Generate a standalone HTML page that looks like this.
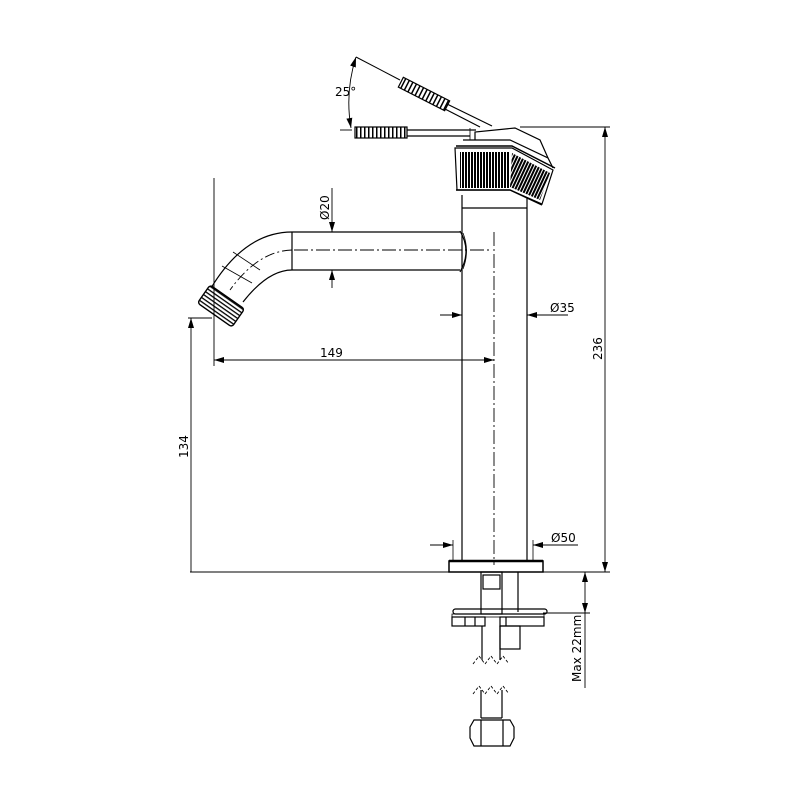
<!DOCTYPE html>
<html><head><meta charset="utf-8"><style>html,body{margin:0;padding:0;background:#fff}svg{display:block}text{font-family:"DejaVu Sans","Liberation Sans",sans-serif;font-size:12px;fill:#000}</style></head><body>
<svg width="800" height="800" viewBox="0 0 800 800" xmlns="http://www.w3.org/2000/svg">
<defs>
<marker id="a" viewBox="0 0 10 6" refX="10" refY="3" markerWidth="10" markerHeight="6" orient="auto-start-reverse" markerUnits="userSpaceOnUse"><path d="M0,0L10,3L0,6z" fill="#000"/></marker>
<pattern id="kn" width="3" height="10" patternUnits="userSpaceOnUse"><rect width="3" height="10" fill="#fff"/><rect width="2" height="10" fill="#000"/></pattern>
<pattern id="kn2" width="3" height="10" patternUnits="userSpaceOnUse" patternTransform="rotate(25)"><rect width="3" height="10" fill="#fff"/><rect width="2" height="10" fill="#000"/></pattern>
<pattern id="gr" width="4" height="10" patternUnits="userSpaceOnUse"><rect width="4" height="10" fill="#fff"/><rect width="1.5" height="10" fill="#000"/></pattern>
<pattern id="th" width="10" height="3.5" patternUnits="userSpaceOnUse"><rect width="10" height="3.5" fill="#fff"/><rect width="10" height="1.3" fill="#000"/></pattern>
</defs>
<g fill="none" stroke="#000" stroke-width="1.2">
<line x1="462" y1="195" x2="462" y2="561"/><line x1="527" y1="195" x2="527" y2="561"/>
<line x1="462" y1="208" x2="527" y2="208"/>
<line x1="494" y1="232" x2="494" y2="565" stroke-dasharray="14,3,2,3" stroke-width="0.9"/>
<rect x="449" y="561" width="94" height="11" stroke-width="1.5"/>
<line x1="449" y1="561" x2="543" y2="561" stroke-width="2.5"/>
<line x1="453" y1="540" x2="453" y2="561" stroke-width="0.8"/><line x1="533" y1="540" x2="533" y2="561" stroke-width="0.8"/>
<line x1="292" y1="232" x2="460" y2="232"/><line x1="292" y1="270" x2="460" y2="270"/>
<line x1="292" y1="232" x2="292" y2="270"/>
<path d="M460,231 Q472,251 460,272"/><path d="M463,233 Q470,251 463,269" stroke-width="0.8"/>
<path d="M292,232 Q245,232 211,288"/><path d="M292,270 Q268,270 243,302"/>
<line x1="222" y1="266" x2="252" y2="283" stroke-width="0.8"/><line x1="233" y1="252" x2="260" y2="270" stroke-width="0.8"/>
<line x1="294" y1="250" x2="490" y2="250" stroke-dasharray="14,3,2,3" stroke-width="0.9"/>
<path d="M292,250 Q258,251 230,290" stroke-dasharray="10,3,2,3" stroke-width="0.9"/>
<g transform="translate(221,306) rotate(35)"><rect x="-21" y="-11" width="42" height="22" rx="3" fill="url(#th)" stroke-width="1.4"/></g>
<path d="M455,148 L512,148 L553,170 L542,204 L510,190 L457,190 Z" fill="#fff"/>
<rect x="460" y="152" width="50" height="36" fill="url(#kn)" stroke="none"/>
<path d="M512,153 L550,173 L540,200 L510,187Z" fill="url(#kn2)" stroke="none"/>
<path d="M456,146 L512,146 L555,168 M456,190 L510,190 L542,205" stroke-width="1.5"/>
<path d="M463,140 L510,140 L548,158 L553,168" />
<path d="M475,140 L475,132 L515,128 L540,140 L548,158"/>
<line x1="470" y1="128" x2="470" y2="140" stroke-width="0.8"/>
<rect x="355" y="127" width="52" height="11" fill="url(#gr)"/>
<line x1="407" y1="130" x2="476" y2="130"/><line x1="407" y1="136" x2="470" y2="136"/>
<g transform="translate(424,94) rotate(27)"><rect x="-26" y="-5.5" width="52" height="11" fill="url(#gr)"/></g>
<line x1="356" y1="57" x2="400" y2="80" stroke-width="1"/>
<line x1="447" y1="104" x2="492" y2="126"/><line x1="445" y1="109" x2="480" y2="127"/>
<rect x="481" y="572" width="21" height="42"/><rect x="483" y="575" width="17" height="14"/>
<line x1="518" y1="572" x2="518" y2="612"/>
<rect x="453" y="609" width="94" height="5" rx="2.5"/>
<rect x="452" y="617" width="33" height="9"/><rect x="500" y="617" width="44" height="9"/>
<line x1="465" y1="617" x2="465" y2="626"/><line x1="475" y1="617" x2="475" y2="626"/><line x1="506" y1="617" x2="506" y2="626"/>
<rect x="452" y="614" width="92" height="3" stroke-width="0.8"/>
<rect x="500" y="626" width="20" height="23"/>
<line x1="482" y1="626" x2="482" y2="660"/><line x1="500" y1="626" x2="500" y2="660"/>
<polyline points="473,664 479,656 485,664 491,656 497,664 503,656 509,664" stroke-width="0.9" stroke-dasharray="3,2"/>
<polyline points="473,694 479,686 485,694 491,686 497,694 503,686 509,694" stroke-width="0.9" stroke-dasharray="3,2"/>
<line x1="481" y1="690" x2="481" y2="718"/><line x1="502" y1="690" x2="502" y2="718"/>
<line x1="481" y1="718" x2="502" y2="718"/>
<path d="M474,720 L510,720 L514,727 L514,738 L510,746 L474,746 L470,738 L470,727 Z"/>
<line x1="481" y1="720" x2="481" y2="746"/><line x1="503" y1="720" x2="503" y2="746"/>
<g stroke-width="0.9">
<line x1="214" y1="178" x2="214" y2="366"/>
<line x1="214" y1="360" x2="494" y2="360" marker-start="url(#a)" marker-end="url(#a)"/>
<line x1="332" y1="188" x2="332" y2="232" marker-end="url(#a)"/><line x1="332" y1="288" x2="332" y2="270" marker-end="url(#a)"/>
<line x1="440" y1="315" x2="462" y2="315" marker-end="url(#a)"/><line x1="568" y1="315" x2="527" y2="315" marker-end="url(#a)"/>
<line x1="430" y1="545" x2="453" y2="545" marker-end="url(#a)"/><line x1="578" y1="545" x2="533" y2="545" marker-end="url(#a)"/>
<line x1="188" y1="318" x2="212" y2="318"/>
<line x1="191" y1="318" x2="191" y2="572" marker-start="url(#a)"/>
<line x1="190" y1="572" x2="449" y2="572"/><line x1="543" y1="572" x2="610" y2="572"/>
<line x1="520" y1="127" x2="610" y2="127"/>
<line x1="605" y1="127" x2="605" y2="572" marker-start="url(#a)" marker-end="url(#a)"/>
<line x1="543" y1="613" x2="590" y2="613"/>
<line x1="585" y1="572" x2="585" y2="613" marker-start="url(#a)" marker-end="url(#a)"/>
<line x1="585" y1="613" x2="585" y2="688"/>
<line x1="340" y1="130" x2="352" y2="130"/>
<path d="M351,128 A150,150 0 0 1 356,57" marker-start="url(#a)" marker-end="url(#a)"/>
</g>
</g>
<text x="320" y="357">149</text>
<text x="550" y="312">Ø35</text>
<text x="551" y="542">Ø50</text>
<text x="335" y="96">25°</text>
<text transform="translate(329,220) rotate(-90)">Ø20</text>
<text transform="translate(188,458) rotate(-90)">134</text>
<text transform="translate(602,360) rotate(-90)">236</text>
<text transform="translate(581,682) rotate(-90)">Max 22mm</text>
</svg>
</body></html>
